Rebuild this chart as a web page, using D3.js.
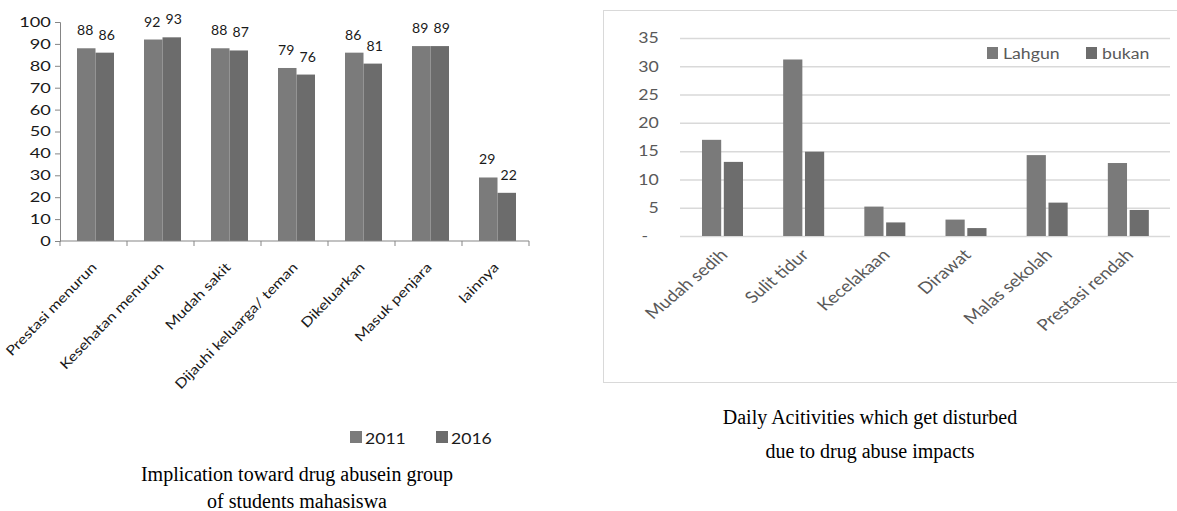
<!DOCTYPE html>
<html>
<head>
<meta charset="utf-8">
<script src="https://cdn.jsdelivr.net/npm/d3@7"></script>
<style>
  body { margin: 0; background: #fff; }
  svg { display: block; }
</style>
</head>
<body>
<div id="figure"><svg width="1177" height="511"></svg></div>
<script>
// left chart data
var impactCats = ["Prestasi menurun", "Kesehatan menurun", "Mudah sakit", "Dijauhi keluarga/ teman",
                  "Dikeluarkan", "Masuk penjara", "lainnya"];
var yearSeries = ["2011", "2016"];
var values2011 = [88, 92, 88, 79, 86, 89, 29];
var values2016 = [86, 93, 87, 76, 81, 89, 22];
var leftTicks = [0, 10, 20, 30, 40, 50, 60, 70, 80, 90, 100];

// right chart data
var activityCats = ["Mudah sedih", "Sulit tidur", "Kecelakaan", "Dirawat", "Malas sekolah", "Prestasi rendah"];
var groupSeries = ["Lahgun", "bukan"];
var valuesLahgun = [17, 31.2, 5.2, 2.9, 14.3, 12.9];
var valuesBukan = [13.1, 14.9, 2.4, 1.4, 5.9, 4.6];
var rightTicks = [0, 5, 10, 15, 20, 25, 30, 35];

var leftCaption = ["Implication toward drug abusein group", "of students mahasiswa"];
var rightCaption = ["Daily Acitivities which get disturbed", "due to drug abuse impacts"];

var figure = d3.select("div#figure svg");
var sansFont = "Lato, 'Open Sans', sans-serif";
var serifFont = "'Liberation Serif', 'Times New Roman', serif";
var leftColors = d3.scaleOrdinal().domain(yearSeries).range(["#7b7b7b", "#6c6c6c"]);
var rightColors = d3.scaleOrdinal().domain(groupSeries).range(["#7a7a7a", "#6d6d6d"]);

// the source picture is stretched sideways, so text gets a small x scale
var leftStretch = 1.3;
var rightStretch = 1.18;

function drawLeft() {
  var g = figure.append("g").attr("id", "left");
  var x0 = d3.scaleBand().domain(impactCats).range([60, 529]);
  var x1 = d3.scaleBand().domain(yearSeries).range([17, 54]);
  var y = d3.scaleLinear().domain([0, 100]).range([241, 22]);

  var rows = impactCats.map(function(c, i) {
    return {cat: c, vals: [{key: "2011", v: values2011[i]}, {key: "2016", v: values2016[i]}]};
  });

  var groups = g.selectAll("g.grp").data(rows).enter().append("g")
      .attr("class", "grp")
      .attr("transform", function(d) { return "translate(" + x0(d.cat) + ",0)"; });

  groups.selectAll("rect").data(function(d) { return d.vals; }).enter().append("rect")
      .attr("x", function(d) { return x1(d.key); })
      .attr("y", function(d) { return y(d.v); })
      .attr("width", x1.bandwidth())
      .attr("height", function(d) { return y(0) - y(d.v); })
      .style("fill", function(d) { return leftColors(d.key); });

  // value labels, nudged apart a little like the original
  groups.selectAll("text").data(function(d) { return d.vals; }).enter().append("text")
      .attr("transform", function(d, i) {
        var cx = x1(d.key) + x1.bandwidth() / 2 + (i === 0 ? -1 : 2);
        return "translate(" + cx + "," + (y(d.v) - 13) + ") scale(1.08,1)";
      })
      .attr("text-anchor", "middle")
      .attr("font-family", sansFont)
      .attr("font-size", 13)
      .style("fill", "#1a1a1a")
      .text(function(d) { return d.v; });

  // y axis
  var yAxis = g.append("g")
      .attr("transform", "translate(60,0)")
      .call(d3.axisLeft(y).tickValues(leftTicks).tickSize(5).tickPadding(2));
  yAxis.select(".domain").style("stroke", "#858585");
  yAxis.selectAll(".tick line").style("stroke", "#858585");
  yAxis.selectAll(".tick text")
      .attr("font-family", sansFont)
      .attr("font-size", 14)
      .style("fill", "#1a1a1a")
      .attr("transform", "scale(" + leftStretch + ",1)");

  // x axis with ticks between categories
  g.append("line")
      .attr("x1", x0.range()[0]).attr("x2", x0.range()[1])
      .attr("y1", y(0)).attr("y2", y(0))
      .style("stroke", "#858585");
  var bounds = impactCats.map(function(c) { return x0(c); }).concat([x0.range()[1]]);
  g.selectAll("line.xt").data(bounds).enter().append("line")
      .attr("class", "xt")
      .attr("x1", function(d) { return d; }).attr("x2", function(d) { return d; })
      .attr("y1", y(0)).attr("y2", y(0) + 5)
      .style("stroke", "#858585");

  g.selectAll("text.xl").data(impactCats).enter().append("text")
      .attr("class", "xl")
      .attr("transform", function(d) {
        return "translate(" + (x0(d) + x0.bandwidth() / 2 + 4) + "," + (y(0) + 27) + ") rotate(-46) scale(1.2,1)";
      })
      .attr("text-anchor", "end")
      .attr("font-family", sansFont)
      .attr("font-size", 13.5)
      .style("fill", "#1a1a1a")
      .text(function(d) { return d; });

  // legend
  var leg = g.selectAll("g.leg").data(yearSeries).enter().append("g")
      .attr("class", "leg")
      .attr("transform", function(d, i) { return "translate(" + (350 + i * 86) + ",431)"; });
  leg.append("rect").attr("width", 12).attr("height", 12)
      .style("fill", function(d) { return leftColors(d); });
  leg.append("text")
      .attr("transform", "translate(15,12.5) scale(1.1,1)")
      .attr("font-family", sansFont)
      .attr("font-size", 16)
      .style("fill", "#1a1a1a")
      .text(function(d) { return d; });

  figure.append("g").selectAll("text").data(leftCaption).enter().append("text")
      .attr("x", 297)
      .attr("y", function(d, i) { return 481 + i * 27; })
      .attr("text-anchor", "middle")
      .attr("font-family", serifFont)
      .attr("font-size", 20)
      .style("fill", "#000")
      .text(function(d) { return d; });
}

function drawRight() {
  var g = figure.append("g").attr("id", "right");

  g.append("rect")
      .attr("x", 603.5).attr("y", 10.5)
      .attr("width", 600).attr("height", 372)
      .style("fill", "none")
      .style("stroke", "#d9d9d9");

  var x0 = d3.scaleBand().domain(activityCats).range([682, 1169]);
  var x1 = d3.scaleBand().domain(groupSeries).range([20, 61]).paddingInner(0.12);
  var y = d3.scaleLinear().domain([0, 35]).range([236, 38]);

  var yAxis = g.append("g")
      .attr("transform", "translate(680,0)")
      .call(d3.axisLeft(y).tickValues(rightTicks).tickSize(-490).tickPadding(18)
              .tickFormat(function(d) { return d === 0 ? "-" : d; }));
  yAxis.select(".domain").remove();
  yAxis.selectAll(".tick line").style("stroke", "#d9d9d9").style("stroke-width", 1.5);
  yAxis.selectAll(".tick text")
      .attr("font-family", sansFont)
      .attr("font-size", 15)
      .style("fill", "#595959")
      .attr("transform", "scale(" + rightStretch + ",1)")
      .filter(function(d) { return d === 0; })
      .attr("dx", -9);

  var rows = activityCats.map(function(c, i) {
    return {cat: c, vals: [{key: "Lahgun", v: valuesLahgun[i]}, {key: "bukan", v: valuesBukan[i]}]};
  });

  var groups = g.selectAll("g.grp").data(rows).enter().append("g")
      .attr("class", "grp")
      .attr("transform", function(d) { return "translate(" + x0(d.cat) + ",0)"; });

  groups.selectAll("rect").data(function(d) { return d.vals; }).enter().append("rect")
      .attr("x", function(d) { return x1(d.key); })
      .attr("y", function(d) { return y(d.v); })
      .attr("width", x1.bandwidth())
      .attr("height", function(d) { return y(0) - y(d.v); })
      .style("fill", function(d) { return rightColors(d.key); });

  g.selectAll("text.xl").data(activityCats).enter().append("text")
      .attr("class", "xl")
      .attr("transform", function(d) {
        return "translate(" + (x0(d) + x0.bandwidth() / 2 + 6) + "," + (y(0) + 20) + ") scale(" + rightStretch + ",1) rotate(-45)";
      })
      .attr("text-anchor", "end")
      .attr("font-family", sansFont)
      .attr("font-size", 16)
      .style("fill", "#595959")
      .text(function(d) { return d; });

  var leg = g.selectAll("g.leg").data(groupSeries).enter().append("g")
      .attr("class", "leg")
      .attr("transform", function(d, i) { return "translate(" + (987 + i * 99) + ",47)"; });
  leg.append("rect").attr("width", 11).attr("height", 12)
      .style("fill", function(d) { return rightColors(d); });
  leg.append("text")
      .attr("transform", "translate(16,12) scale(" + rightStretch + ",1)")
      .attr("font-family", sansFont)
      .attr("font-size", 15)
      .style("fill", "#595959")
      .text(function(d) { return d; });

  figure.append("g").selectAll("text").data(rightCaption).enter().append("text")
      .attr("x", 870)
      .attr("y", function(d, i) { return 424 + i * 34; })
      .attr("text-anchor", "middle")
      .attr("font-family", serifFont)
      .attr("font-size", 20)
      .style("fill", "#000")
      .text(function(d) { return d; });
}

drawLeft();
drawRight();
</script>
</body>
</html>
